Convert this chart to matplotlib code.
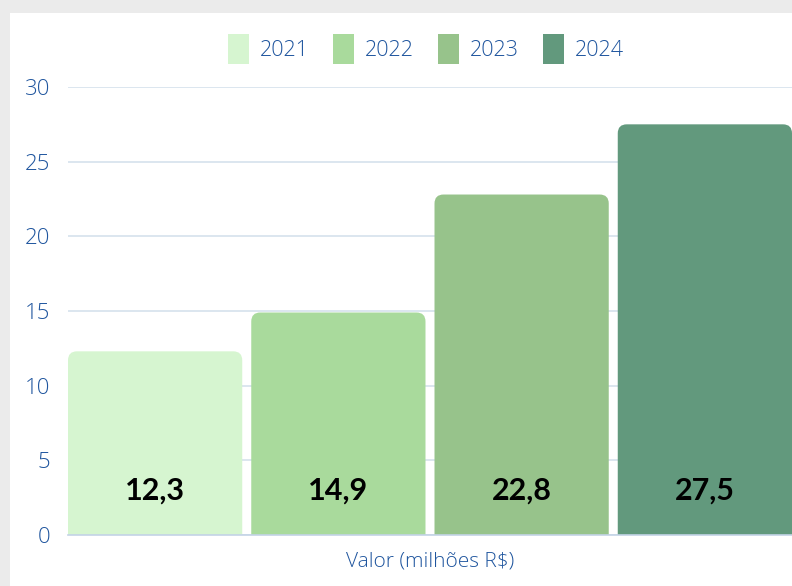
import matplotlib
matplotlib.use("Agg")
import matplotlib.pyplot as plt
from matplotlib.patches import FancyBboxPatch, Rectangle, Patch

anos = ["2021", "2022", "2023", "2024"]
valores = [12.3, 14.9, 22.8, 27.5]
rotulos = ["12,3", "14,9", "22,8", "27,5"]
cores = ["#d6f5d0", "#a9da9c", "#97c38b", "#62997d"]
eixo_x = "Valor (milhões R$)"
yticks = [0, 5, 10, 15, 20, 25, 30]

azul = "#1f559e"
fonte = ["Open Sans", "DejaVu Sans"]

W, H = 792, 586
fig = plt.figure(figsize=(W / 100, H / 100), dpi=100)
fig.patch.set_facecolor("#ebebeb")
fig.patches.append(Rectangle((10 / W, 0), 1, 1 - 13 / H, transform=fig.transFigure,
                             facecolor="white", edgecolor="none", zorder=-5))

ax = fig.add_axes([68 / W, 51 / H, (W - 68) / W, 448 / H])
ax.set_facecolor("none")

passo = 1 + 9 / 174
xs = [i * passo for i in range(len(anos))]
bars = ax.bar(xs, valores, width=1.0, color=cores)

# rounded tops: swap the rectangles for fancy boxes of the same geometry
r_px = 9
px_x = (W - 68) / (xs[-1] + 1.0)
px_y = 448 / 30
for b, c in zip(bars, cores):
    x0, w, h = b.get_x(), b.get_width(), b.get_height()
    pad = r_px / px_x
    fb = FancyBboxPatch((x0 + pad, -2), w - 2 * pad, h + 2 - r_px / px_y,
                        boxstyle=f"round,pad={pad},rounding_size={pad}",
                        mutation_aspect=px_x / px_y,
                        facecolor=c, edgecolor="none", zorder=2)
    ax.add_patch(fb)
    b.set_visible(False)

for x, t in zip(xs, rotulos):
    ax.text(x, 2.95, t, ha="center", va="center", fontsize=22,
            fontweight="bold", family=["Lato", "DejaVu Sans"], color="black", zorder=3)

ax.set_xlim(-0.5, xs[-1] + 0.5)
ax.set_ylim(0, 30)
ax.set_yticks(yticks)
ax.set_xticks([])
ax.tick_params(axis="y", length=0, pad=13, labelsize=16, labelcolor=azul)
for lab in ax.get_yticklabels():
    lab.set_family(fonte)
    lab.set_fontweight("light")
ax.grid(axis="y", color="#d5e1ec", linewidth=1.2, zorder=0)
ax.set_axisbelow(True)
for s in ["top", "right", "left"]:
    ax.spines[s].set_visible(False)
ax.spines["bottom"].set_color("#c3d3e6")
ax.spines["bottom"].set_linewidth(1.2)
ax.set_xlabel(eixo_x, fontsize=15, color=azul, family=fonte, fontweight="light",
              labelpad=12)

handles = [Patch(facecolor=c, edgecolor="none") for c in cores]
fig.legend(handles, anos, loc="center", bbox_to_anchor=(426 / W, 1 - 49 / H),
           ncol=4, frameon=False, handlelength=1.0, handleheight=1.8,
           handletextpad=0.5, columnspacing=1.1,
           prop={"family": fonte, "size": 15.5, "weight": "light"}, labelcolor=azul)

fig.savefig("out.png", dpi=100, facecolor=fig.get_facecolor())
